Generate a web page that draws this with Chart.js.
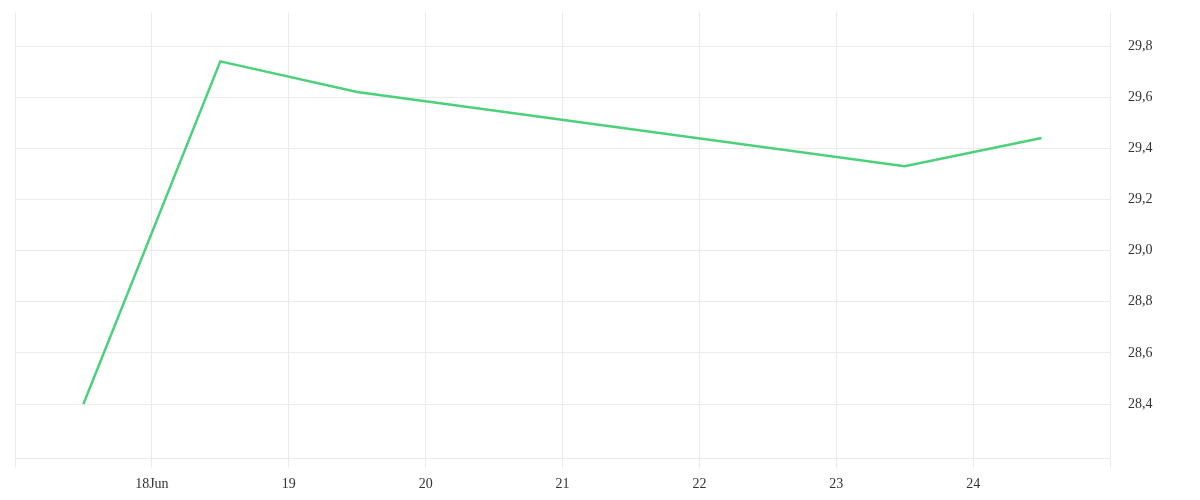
<!DOCTYPE html>
<html>
<head>
<meta charset="utf-8">
<script src="https://cdn.jsdelivr.net/npm/chart.js@4"></script>
<style>
html,body{margin:0;padding:0;background:#fff;}
#wrap{width:1200px;height:500px;}
</style>
</head>
<body>
<div id="wrap"><canvas id="c" width="1200" height="500"></canvas></div>
<script>
// Days in June (noon = .5)
const dayPositions = [17.5, 18.5, 19.5, 23.5, 24.5];
const seriesValues = [28.40, 29.74, 29.62, 29.33, 29.44];
const xTickValues = [17, 18, 19, 20, 21, 22, 23, 24, 25];
const xTickLabels = ['', '18Jun', '19', '20', '21', '22', '23', '24', ''];
const yTickValues = [28.4, 28.6, 28.8, 29.0, 29.2, 29.4, 29.6, 29.8];

const FONT = {family: '"Liberation Serif", serif', size: 14};
const GRID = '#ebebeb';

new Chart(document.getElementById('c'), {
  type: 'line',
  data: {
    datasets: [{
      data: dayPositions.map((d, i) => ({x: d, y: seriesValues[i]})),
      borderColor: 'rgb(76,208,122)',
      borderWidth: 2.5,
      pointRadius: 0,
      tension: 0,
      fill: false
    }]
  },
  options: {
    responsive: false,
    animation: false,
    devicePixelRatio: 1,
    layout: {padding: {left: 15, top: 12, right: 0, bottom: 0}},
    plugins: {legend: {display: false}, tooltip: {enabled: false}},
    scales: {
      x: {
        type: 'linear',
        min: 17, max: 25,
        afterBuildTicks: s => { s.ticks = xTickValues.map(v => ({value: v})); },
        afterFit: s => { s.height = 42; s.paddingLeft = 0; s.paddingRight = 0; },
        grid: {color: GRID, tickLength: 10, drawTicks: true},
        border: {color: GRID},
        ticks: {
          font: FONT, color: '#333', padding: 8, maxRotation: 0, autoSkip: false,
          callback: (v) => { const i = xTickValues.indexOf(v); return i >= 0 ? xTickLabels[i] : ''; }
        }
      },
      y: {
        position: 'right',
        min: 28.189, max: 29.933,
        afterBuildTicks: s => { s.ticks = yTickValues.map(v => ({value: v})); },
        afterFit: s => { s.width = 90; s.paddingTop = 0; s.paddingBottom = 0; },
        grid: {color: GRID, drawTicks: false},
        border: {color: GRID},
        ticks: {
          font: FONT, color: '#333', padding: 18,
          callback: v => v.toFixed(1).replace('.', ',')
        }
      }
    }
  }
});
</script>
</body>
</html>
